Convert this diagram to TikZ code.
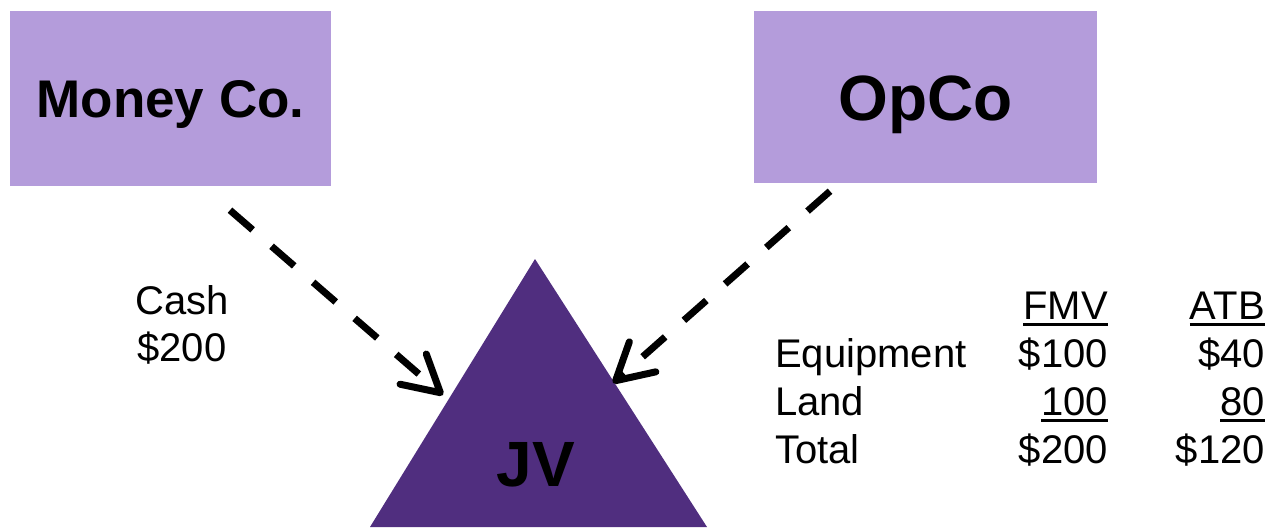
\documentclass[tikz,border=0pt]{standalone}
\usepackage{fontspec}
\setmainfont{Liberation Sans}
\usetikzlibrary{arrows.meta}
\definecolor{boxlilac}{HTML}{B49CDB}
\definecolor{jvpurple}{HTML}{502E7F}
% underline drawn as a thick rule just below the baseline
\newcommand{\ulnum}[1]{\setbox0=\hbox{#1}\rlap{\rule[-6.5pt]{\wd0}{3pt}}\box0}

\begin{document}
\begin{tikzpicture}[x=1pt,y=-1pt,
  party/.style={fill=boxlilac, inner sep=0pt, text depth=0pt},
  lbl/.style={font=\fontsize{40}{47}\selectfont, inner sep=0pt},
  flow/.style={line width=7pt, dash pattern=on 30pt off 25pt,
    -{Straight Barb[length=36pt,width=40pt,line cap=round,line join=round]}}]
\useasboundingbox (0,0) rectangle (1268,527);

% the two contributors
\node[party, minimum width=321pt, minimum height=175pt,
      font=\bfseries\fontsize{53}{60}\selectfont, text height=38pt]
      (money) at (170.5,98.5) {Money Co.};
\node[party, minimum width=343pt, minimum height=172pt,
      font=\bfseries\fontsize{64}{70}\selectfont, text height=46pt, text depth=-6pt]
      (opco) at (925.5,97) {OpCo};

% the joint venture
\coordinate (apex) at (535,259);
\coordinate (jvleft) at (370,527);
\coordinate (jvright) at (707,527);
\fill[jvpurple] (apex) -- (jvright) -- (jvleft) -- cycle;
\node[font=\bfseries\fontsize{64}{70}\selectfont, text height=46pt, text depth=0pt,
      inner sep=0pt] (jv) at (536,463) {JV};

% contributions
\coordinate (cashstart) at ([shift={(59.5,24)}]money.south);
\coordinate (cashend) at (443,395);
\coordinate (opstart) at ([shift={(-95.5,8)}]opco.south);
\coordinate (opend) at (613,383);
\draw[flow] (cashstart) -- (cashend);
\draw[flow] (opstart) -- (opend);

\node[lbl, align=center, anchor=base] (cash) at (182,361) {Cash\\\$200};

% contributed assets
\node[lbl, anchor=base east] (fmvh) at (1108,319) {\ulnum{FMV}};
\node[lbl, anchor=base east] (atbh) at (1265,319) {\ulnum{ATB}};
\node[lbl, anchor=base west] (equip) at (775,367) {Equipment};
\node[lbl, anchor=base east] (equipfmv) at (1108,367) {\$100};
\node[lbl, anchor=base east] (equipatb) at (1265,367) {\$40};
\node[lbl, anchor=base west] (land) at (775,415) {Land};
\node[lbl, anchor=base east] (landfmv) at (1108,415) {\ulnum{100}};
\node[lbl, anchor=base east] (landatb) at (1265,415) {\ulnum{80}};
\node[lbl, anchor=base west] (total) at (775,463) {Total};
\node[lbl, anchor=base east] (totalfmv) at (1108,463) {\$200};
\node[lbl, anchor=base east] (totalatb) at (1265,463) {\$120};
\end{tikzpicture}
\end{document}
